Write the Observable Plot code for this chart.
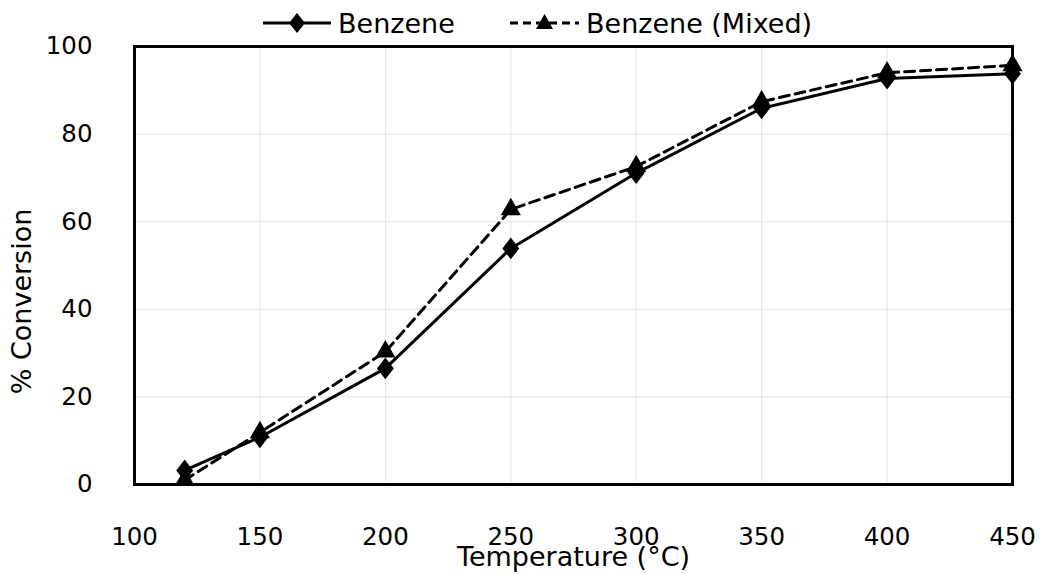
<!DOCTYPE html>
<html>
<head>
<meta charset="utf-8">
<script src="https://cdn.jsdelivr.net/npm/d3@7"></script>
<script src="https://cdn.jsdelivr.net/npm/@observablehq/plot@0.6"></script>
<style>
  html, body { margin: 0; padding: 0; background: white; }
  body { width: 1046px; height: 574px; overflow: hidden; position: relative; font-family: "DejaVu Sans", sans-serif; }
  #legend { position: absolute; left: 0; top: 0; height: 44px; width: 1046px; z-index: 2; }
  #legend .item { position: absolute; top: 0; height: 46px; display: flex; align-items: center; font-size: 27px; color: black; }
  #legend svg { display: block; }
  #chart { position: absolute; left: 0; top: 0; }
</style>
</head>
<body>
<div id="chart"></div>
<div id="legend"></div>
<script>
const temperatures = [120, 150, 200, 250, 300, 350, 400, 450];
const benzene = [3.2, 10.8, 26.5, 53.9, 71.1, 85.9, 92.7, 93.8];
const benzeneMixed = [1.0, 11.9, 30.3, 62.8, 72.6, 87.4, 94.0, 95.7];
const seriesNames = ["Benzene", "Benzene (Mixed)"];
const xTicks = [100, 150, 200, 250, 300, 350, 400, 450];
const yTicks = [0, 20, 40, 60, 80, 100];
const xLabel = "Temperature (°C)";
const yLabel = "% Conversion";

const rowsB = temperatures.map((t, i) => ({t, v: benzene[i]}));
const rowsM = temperatures.map((t, i) => ({t, v: benzeneMixed[i]}));

// diamond slightly taller than wide
const diamondSym = {
  draw(ctx, size) {
    const w = Math.sqrt(size / 2.7);
    const h = w * 1.3;
    ctx.moveTo(0, -h); ctx.lineTo(w, 0); ctx.lineTo(0, h); ctx.lineTo(-w, 0); ctx.closePath();
  }
};

const chart = Plot.plot({
  width: 1046,
  height: 574,
  marginTop: 46,
  marginBottom: 90,
  marginLeft: 134,
  marginRight: 34,
  style: {fontFamily: "DejaVu Sans, sans-serif", fontSize: "24px", color: "black", background: "white", overflow: "visible"},
  x: {domain: [100, 450], ticks: xTicks},
  y: {domain: [0, 100], ticks: yTicks},
  marks: [
    Plot.gridX(xTicks, {stroke: "#e4e4e4", strokeOpacity: 1, strokeWidth: 1}),
    Plot.gridY(yTicks, {stroke: "#e4e4e4", strokeOpacity: 1, strokeWidth: 1}),
    Plot.axisX(xTicks, {tickSize: 0, tickPadding: 43, label: null, fontSize: 24.5}),
    Plot.axisY(yTicks, {tickSize: 0, tickPadding: 42, label: null, fontSize: 24.5}),
    Plot.text([xLabel], {frameAnchor: "bottom", dy: 73, lineAnchor: "middle", textAnchor: "middle", fontSize: 27}),
    Plot.text([yLabel], {frameAnchor: "left", rotate: -90, dx: -112, dy: 36, textAnchor: "middle", lineAnchor: "middle", fontSize: 27}),
    Plot.line(rowsM, {x: "t", y: "v", stroke: "black", strokeWidth: 3, strokeDasharray: "10,6"}),
    Plot.dot(rowsM, {x: "t", y: "v", symbol: "triangle", r: 7.5, fill: "black", stroke: "none"}),
    Plot.line(rowsB, {x: "t", y: "v", stroke: "black", strokeWidth: 3}),
    Plot.dot(rowsB, {x: "t", y: "v", symbol: diamondSym, r: 7.8, fill: "black", stroke: "none"}),
    Plot.frame({stroke: "black", strokeWidth: 3})
  ]
});
document.getElementById("chart").appendChild(chart);

// Legend
const legend = document.getElementById("legend");
function item(left, name, w, dashed, sym) {
  const d = document.createElement("div");
  d.className = "item";
  d.style.left = left + "px";
  const ns = "http://www.w3.org/2000/svg";
  const s = document.createElementNS(ns, "svg");
  s.setAttribute("width", w);
  s.setAttribute("height", 30);
  const l = document.createElementNS(ns, "line");
  l.setAttribute("x1", 0); l.setAttribute("x2", w); l.setAttribute("y1", 15); l.setAttribute("y2", 15);
  l.setAttribute("stroke", "black"); l.setAttribute("stroke-width", 3);
  if (dashed) l.setAttribute("stroke-dasharray", "8,5");
  s.appendChild(l);
  const p = document.createElementNS(ns, "path");
  const c = w / 2;
  if (sym === "diamond") p.setAttribute("d", `M${c},5L${c+8},15L${c},25L${c-8},15Z`);
  else p.setAttribute("d", `M${c},6L${c+8.5},21L${c-8.5},21Z`);
  p.setAttribute("fill", "black");
  s.appendChild(p);
  d.appendChild(s);
  const t = document.createElement("span");
  t.textContent = name;
  t.style.marginLeft = "7px";
  d.appendChild(t);
  legend.appendChild(d);
}
item(263, seriesNames[0], 68, false, "diamond");
item(510, seriesNames[1], 69, true, "triangle");
</script>
</body>
</html>
